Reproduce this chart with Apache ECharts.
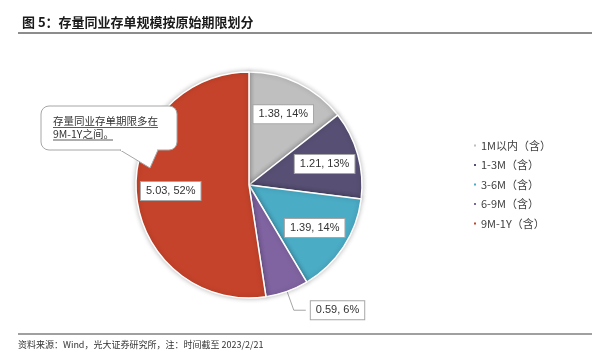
<!DOCTYPE html>
<html>
<head>
<meta charset="utf-8">
<script src="https://cdn.jsdelivr.net/npm/echarts@6/dist/echarts.min.js"></script>
<style>
  html, body { margin: 0; padding: 0; background: #fff; }
  #chart { width: 611px; height: 364px; }
</style>
</head>
<body>
<div id="chart"></div>
<script>
const categories = ['1M以内（含）', '1-3M（含）', '3-6M（含）', '6-9M（含）', '9M-1Y（含）'];
const amounts = [1.38, 1.21, 1.39, 0.59, 5.03];
const colors = ['#BFBFBF', '#575074', '#4BACC6', '#8064A2', '#C5432A'];
const outsideLabels = ['6-9M（含）'];

const FONT = '"Noto Sans CJK SC", "Noto Sans", sans-serif';
const center = [249, 185];
const R = 113;

const chart = echarts.init(document.getElementById('chart'));

const pieData = categories.map((name, i) => ({
  name,
  value: amounts[i],
  itemStyle: { color: colors[i] },
}));

const labelData = categories.map((name, i) => {
  const outside = outsideLabels.includes(name);
  return {
    name,
    value: amounts[i],
    label: { position: outside ? 'outside' : 'inside' },
    labelLine: { show: outside },
  };
});

chart.setOption({
  backgroundColor: '#fff',
  animation: false,
  title: {
    text: '图 5：存量同业存单规模按原始期限划分',
    left: 17,
    top: 11,
    textStyle: { fontFamily: FONT, fontSize: 13, fontWeight: 'bold', color: '#1a1a1a' },
  },
  legend: {
    data: categories,
    orient: 'vertical',
    left: 472,
    top: 140,
    padding: 0,
    icon: 'rect',
    itemWidth: 4,
    itemHeight: 4,
    itemGap: 8.5,
    textStyle: { fontFamily: FONT, fontSize: 11, color: '#404040', padding: [0, 0, 0, -1] },
  },
  series: [
    {
      type: 'pie',
      center,
      radius: [0, R],
      startAngle: 90,
      silent: true,
      data: pieData,
      label: { show: false },
      labelLine: { show: false },
      itemStyle: {
        borderColor: '#fff',
        borderWidth: 1.5,
        shadowBlur: 5,
        shadowColor: 'rgba(0,0,0,0.25)',
      },
    },
    {
      type: 'pie',
      center,
      radius: [38, R],
      startAngle: 90,
      silent: true,
      data: labelData,
      itemStyle: { color: 'transparent', borderWidth: 0 },
      label: {
        show: true,
        formatter: p => p.value.toFixed(2) + ', ' + Math.round(p.percent) + '%',
        fontFamily: '"Liberation Sans", "Noto Sans", sans-serif',
        fontSize: 11,
        color: '#333',
        backgroundColor: '#fff',
        borderColor: '#A6A6A6',
        borderWidth: 1,
        padding: [4, 5, 3, 5],
      },
      labelLine: {
        length: 20,
        length2: 12,
        lineStyle: { color: '#A6A6A6', width: 1 },
      },
    },
  ],
  graphic: [
    {
      type: 'line',
      shape: { x1: 18, y1: 33, x2: 592, y2: 33 },
      style: { stroke: '#1a1a1a', lineWidth: 1 },
    },
    {
      type: 'line',
      shape: { x1: 18, y1: 334, x2: 592, y2: 334 },
      style: { stroke: '#808080', lineWidth: 1.5 },
    },
    {
      type: 'text',
      x: 18,
      y: 340,
      style: {
        text: '资料来源：Wind，光大证券研究所，注：时间截至 2023/2/21',
        font: '9px ' + FONT,
        fill: '#333',
      },
    },
    // callout bubble: rounded box + tail
    {
      type: 'rect',
      shape: { x: 41, y: 106, width: 136, height: 44, r: 8 },
      style: { fill: '#fff', stroke: '#A6A6A6', lineWidth: 1 },
      z: 10,
    },
    {
      type: 'polyline',
      shape: { points: [[120, 150], [150, 168], [158, 150]] },
      style: { fill: '#fff', stroke: '#A6A6A6', lineWidth: 1 },
      z: 10,
    },
    {
      type: 'line',
      shape: { x1: 121, y1: 150, x2: 157, y2: 150 },
      style: { stroke: '#fff', lineWidth: 2 },
      z: 10,
    },
    {
      type: 'text',
      x: 53,
      y: 115,
      z: 11,
      style: {
        text: '存量同业存单期限多在\n9M-1Y之间。',
        font: '10.5px ' + FONT,
        lineHeight: 12.5,
        fill: '#333',
      },
    },
    {
      type: 'line',
      shape: { x1: 53, y1: 127.5, x2: 158, y2: 127.5 },
      style: { stroke: '#333', lineWidth: 0.8 },
      z: 11,
    },
    {
      type: 'line',
      shape: { x1: 53, y1: 140, x2: 113, y2: 140 },
      style: { stroke: '#333', lineWidth: 0.8 },
      z: 11,
    },
  ],
});
</script>
</body>
</html>
